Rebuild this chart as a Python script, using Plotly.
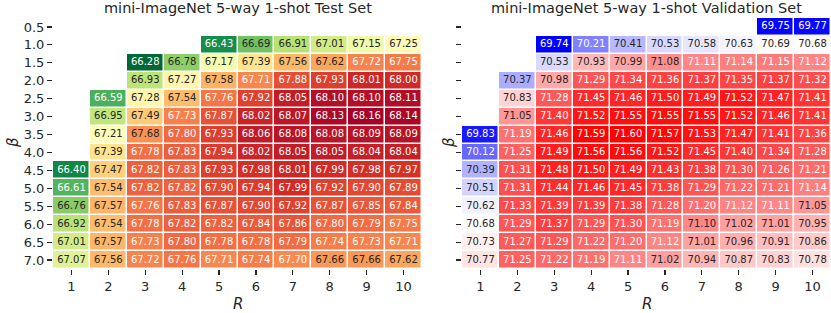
import plotly.graph_objects as go
import plotly.colors as pc

R_vals = [1, 2, 3, 4, 5, 6, 7, 8, 9, 10]
beta_vals = [0.5, 1.0, 1.5, 2.0, 2.5, 3.0, 3.5, 4.0, 4.5, 5.0, 5.5, 6.0, 6.5, 7.0]
beta_labels = ["0.5", "1.0", "1.5", "2.0", "2.5", "3.0", "3.5", "4.0", "4.5", "5.0", "5.5", "6.0", "6.5", "7.0"]
N = None

test_acc = [
    [N, N, N, N, N, N, N, N, N, N],
    [N, N, N, N, 66.43, 66.69, 66.91, 67.01, 67.15, 67.25],
    [N, N, 66.28, 66.78, 67.17, 67.39, 67.56, 67.62, 67.72, 67.75],
    [N, N, 66.93, 67.27, 67.58, 67.71, 67.88, 67.93, 68.01, 68.00],
    [N, 66.59, 67.28, 67.54, 67.76, 67.92, 68.05, 68.10, 68.10, 68.11],
    [N, 66.95, 67.49, 67.73, 67.87, 68.02, 68.07, 68.13, 68.16, 68.14],
    [N, 67.21, 67.68, 67.80, 67.93, 68.06, 68.08, 68.08, 68.09, 68.09],
    [N, 67.39, 67.78, 67.83, 67.94, 68.02, 68.05, 68.05, 68.04, 68.04],
    [66.40, 67.47, 67.82, 67.83, 67.93, 67.98, 68.01, 67.99, 67.98, 67.97],
    [66.61, 67.54, 67.82, 67.82, 67.90, 67.94, 67.99, 67.92, 67.90, 67.89],
    [66.76, 67.57, 67.76, 67.83, 67.87, 67.90, 67.92, 67.87, 67.85, 67.84],
    [66.92, 67.54, 67.78, 67.82, 67.82, 67.84, 67.86, 67.80, 67.79, 67.75],
    [67.01, 67.57, 67.73, 67.80, 67.78, 67.78, 67.79, 67.74, 67.73, 67.71],
    [67.07, 67.56, 67.72, 67.76, 67.71, 67.74, 67.70, 67.66, 67.66, 67.62],
]

val_acc = [
    [N, N, N, N, N, N, N, N, 69.75, 69.77],
    [N, N, 69.74, 70.21, 70.41, 70.53, 70.58, 70.63, 70.69, 70.68],
    [N, N, 70.53, 70.93, 70.99, 71.08, 71.11, 71.14, 71.15, 71.12],
    [N, 70.37, 70.98, 71.29, 71.34, 71.36, 71.37, 71.35, 71.37, 71.32],
    [N, 70.83, 71.28, 71.45, 71.46, 71.50, 71.49, 71.52, 71.47, 71.41],
    [N, 71.05, 71.40, 71.52, 71.55, 71.55, 71.55, 71.52, 71.46, 71.41],
    [69.83, 71.19, 71.46, 71.59, 71.60, 71.57, 71.53, 71.47, 71.41, 71.36],
    [70.12, 71.25, 71.49, 71.56, 71.56, 71.52, 71.45, 71.40, 71.34, 71.28],
    [70.39, 71.31, 71.48, 71.50, 71.49, 71.43, 71.38, 71.30, 71.26, 71.21],
    [70.51, 71.31, 71.44, 71.46, 71.45, 71.38, 71.29, 71.22, 71.21, 71.14],
    [70.62, 71.33, 71.39, 71.39, 71.38, 71.28, 71.20, 71.12, 71.11, 71.05],
    [70.68, 71.29, 71.37, 71.29, 71.30, 71.19, 71.10, 71.02, 71.01, 70.95],
    [70.73, 71.27, 71.29, 71.22, 71.20, 71.12, 71.01, 70.96, 70.91, 70.86],
    [70.77, 71.25, 71.22, 71.19, 71.11, 71.02, 70.94, 70.87, 70.83, 70.78],
]

RDYLGN = ['#a50026', '#d73027', '#f46d43', '#fdae61', '#fee08b', '#ffffbf',
          '#d9ef8b', '#a6d96a', '#66bd63', '#1a9850', '#006837']
rdylgn_r = list(reversed(RDYLGN))
scale_test = [[i / 10, c] for i, c in enumerate(rdylgn_r)]
scale_val = [[0.0, 'rgb(0,0,255)'], [0.5, 'rgb(255,255,255)'], [1.0, 'rgb(255,0,0)']]


def hex_rgb(c):
    if c.startswith('#'):
        return pc.hex_to_rgb(c)
    return tuple(float(v) for v in c[c.index('(') + 1:-1].split(','))


def color_at(scale, t):
    t = min(max(t, 0.0), 1.0)
    for (t0, c0), (t1, c1) in zip(scale[:-1], scale[1:]):
        if t <= t1:
            f = 0 if t1 == t0 else (t - t0) / (t1 - t0)
            a, b = hex_rgb(c0), hex_rgb(c1)
            return tuple(a[k] + (b[k] - a[k]) * f for k in range(3))
    return hex_rgb(scale[-1][1])


def lum(rgb):
    out = []
    for v in rgb:
        v = v / 255.0
        out.append(v / 12.92 if v <= 0.03928 else ((v + 0.055) / 1.055) ** 2.4)
    return 0.2126 * out[0] + 0.7152 * out[1] + 0.0722 * out[2]


def text_points(z, scale):
    flat = [v for row in z for v in row if v is not None]
    lo, hi = min(flat), max(flat)
    xs, ys, txt, cols = [], [], [], []
    for i, row in enumerate(z):
        for j, v in enumerate(row):
            if v is None:
                continue
            rgb = color_at(scale, (v - lo) / (hi - lo))
            xs.append(R_vals[j])
            ys.append(beta_vals[i])
            txt.append(f"{v:.2f}")
            cols.append('#262626' if lum(rgb) > 0.408 else '#ffffff')
    return xs, ys, txt, cols, lo, hi


fig = go.Figure()
FONT = "DejaVu Sans"

for idx, (z, scale) in enumerate([(test_acc, scale_test), (val_acc, scale_val)]):
    xa = 'x' if idx == 0 else 'x2'
    ya = 'y' if idx == 0 else 'y2'
    xs, ys, txt, cols, lo, hi = text_points(z, scale)
    fig.add_trace(go.Heatmap(
        x=R_vals, y=beta_vals, z=z, colorscale=scale, zmin=lo, zmax=hi,
        showscale=False, xgap=1.5, ygap=1.5, hoverinfo='skip',
        xaxis=xa, yaxis=ya))
    fig.add_trace(go.Scatter(
        x=xs, y=ys, text=txt, mode='text',
        textfont=dict(family=FONT, size=10, color=cols),
        hoverinfo='skip', showlegend=False, xaxis=xa, yaxis=ya))

W, H = 831, 313
y_dom = [(H - 269) / H, (H - 18) / H]
axis_common = dict(ticks='outside', ticklen=5, tickwidth=1.2, tickcolor='#262626',
                   showgrid=False, zeroline=False, showline=False,
                   tickfont=dict(family=FONT, size=13, color='#262626'))

fig.update_layout(
    width=W, height=H, margin=dict(l=0, r=0, t=0, b=0),
    paper_bgcolor='white', plot_bgcolor='white', showlegend=False,
    xaxis=dict(domain=[53 / W, 422 / W], range=[0.5, 10.5], tickvals=R_vals,
               ticktext=[str(r) for r in R_vals], anchor='y', **axis_common),
    yaxis=dict(domain=y_dom, range=[7.25, 0.25], tickvals=beta_vals,
               ticktext=beta_labels, anchor='x', **axis_common),
    xaxis2=dict(domain=[462 / W, 831 / W], range=[0.5, 10.5], tickvals=R_vals,
                ticktext=[str(r) for r in R_vals], anchor='y2', **axis_common),
    yaxis2=dict(domain=y_dom, range=[7.25, 0.25], tickvals=beta_vals,
                showticklabels=False, anchor='x2', **axis_common),
)

titles = [("mini-ImageNet 5-way 1-shot Test Set", (53 + 422) / 2),
          ("mini-ImageNet 5-way 1-shot Validation Set", (462 + 831) / 2)]
for t, cx in titles:
    fig.add_annotation(text=t, x=cx / W, y=(H - 8) / H, xref='paper', yref='paper',
                       showarrow=False, xanchor='center', yanchor='middle',
                       font=dict(family=FONT, size=14.5, color='#262626'))
for cx in [(53 + 422) / 2, (462 + 831) / 2]:
    fig.add_annotation(text="<i>R</i>", x=cx / W, y=(H - 304) / H, xref='paper', yref='paper',
                       showarrow=False, xanchor='center', yanchor='middle',
                       font=dict(family=FONT, size=15, color='#262626'))
for bx in [13, 449]:
    fig.add_annotation(text="<i>β</i>", x=bx / W, y=(H - 143) / H, xref='paper', yref='paper',
                       showarrow=False, xanchor='center', yanchor='middle', textangle=-90,
                       font=dict(family=FONT, size=15, color='#262626'))

fig.write_html("out.html", config={"displayModeBar": False, "staticPlot": True})

with open("out.html", "r", encoding="utf-8") as f:
    html = f.read()
html = html.replace("<head>", "<head><style>html,body{margin:0;padding:0;overflow:hidden;}</style>", 1)
with open("out.html", "w", encoding="utf-8") as f:
    f.write(html)
